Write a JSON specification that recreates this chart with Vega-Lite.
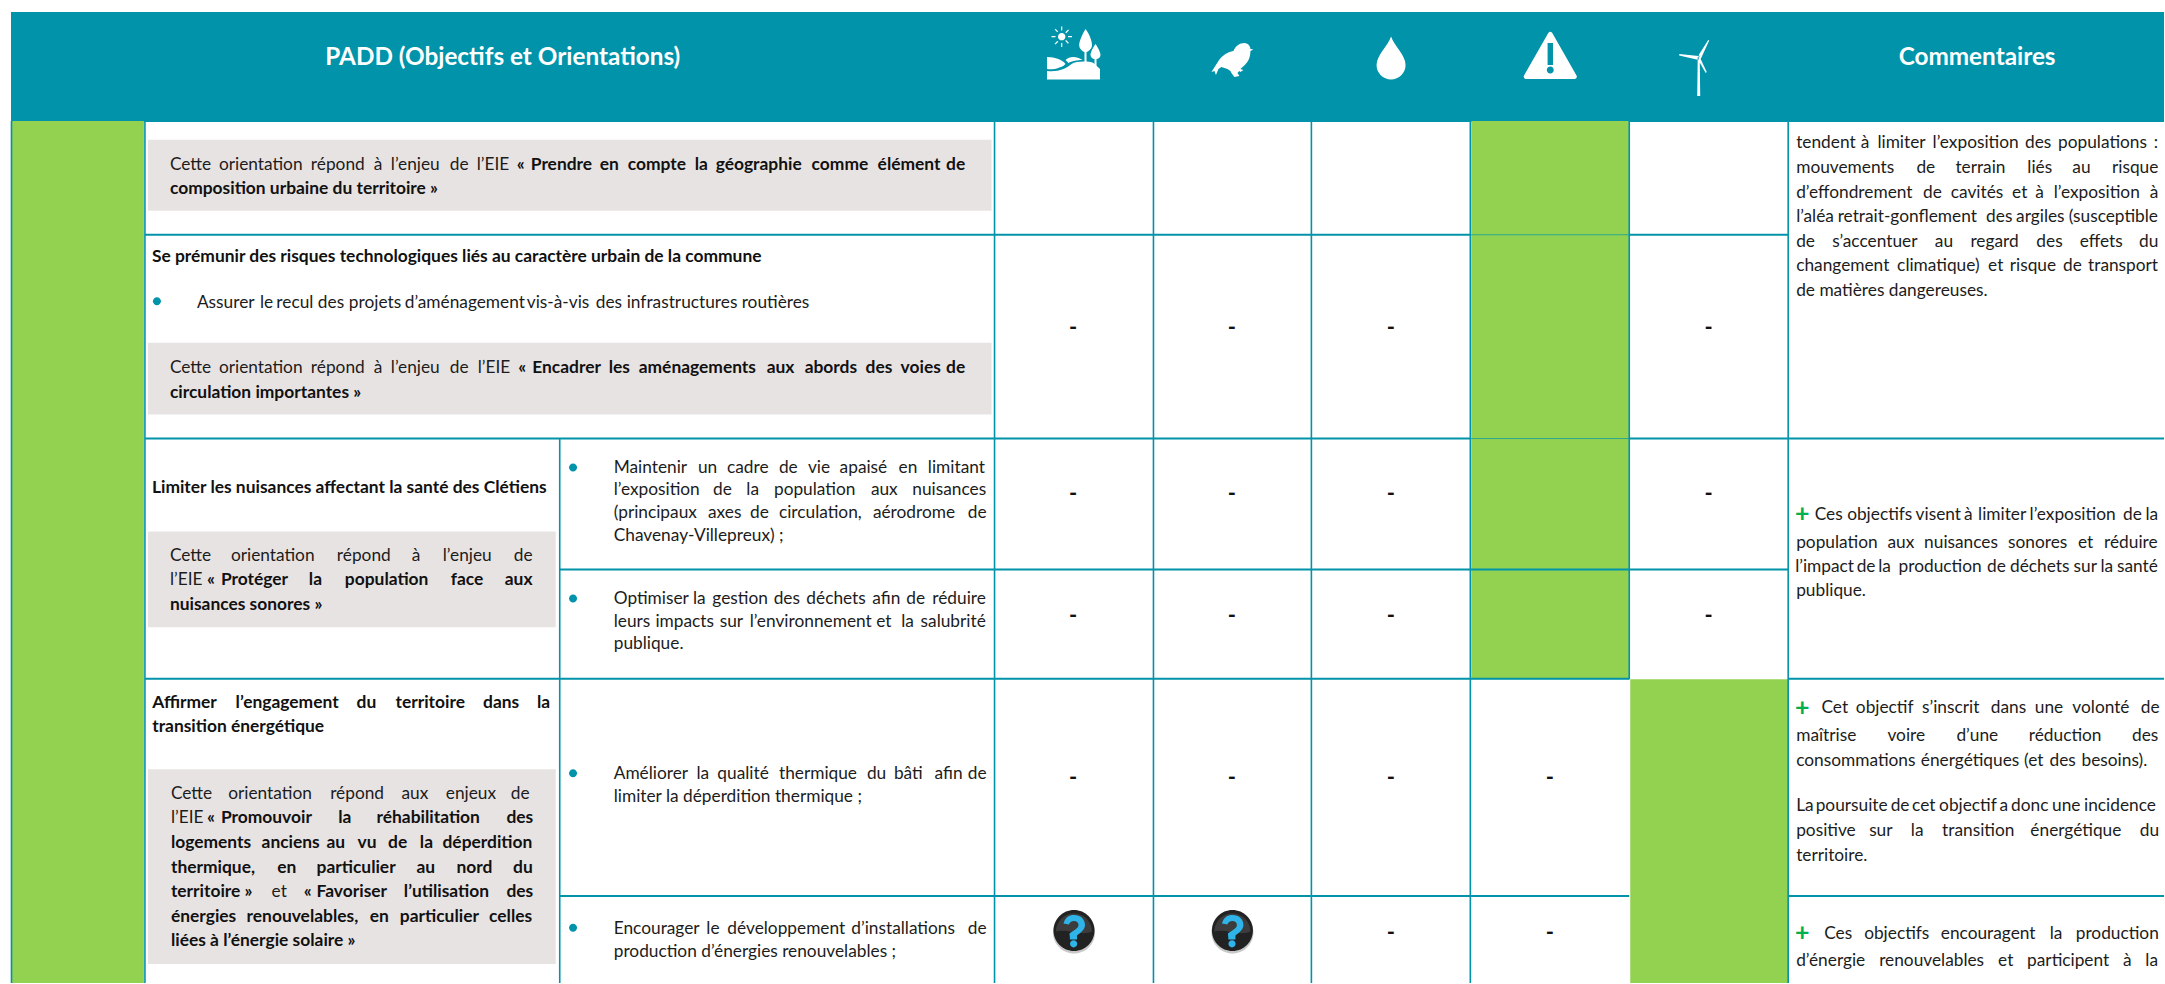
{
"$schema":"https://vega.github.io/schema/vega-lite/v6.json",
"width":2165,"height":984,"padding":0,
"autosize":{"type":"fit","contains":"padding"},
"background":"#ffffff",
"config":{"view":{"stroke":null}},
"resolve":{"scale":{"color":"independent","shape":"independent"}},
"datasets":{
"cellules":[
{"k":"entete","x":11,"x2":2165,"y":12,"y2":122},
{"k":"vert","x":12,"x2":144,"y":121,"y2":984},
{"k":"vert","x":1472,"x2":1630,"y":121,"y2":680},
{"k":"vert","x":1631,"x2":1789,"y":680,"y2":984},
{"k":"gris","x":148,"x2":992,"y":140,"y2":211},
{"k":"gris","x":148,"x2":992,"y":343,"y2":415},
{"k":"gris","x":148,"x2":556,"y":532,"y2":628},
{"k":"gris","x":148,"x2":556,"y":770,"y2":965}
],
"horizontales":[
{"x":145,"x2":1471,"y":235},{"x":1630,"x2":1789,"y":235},
{"x":145,"x2":1471,"y":439},{"x":1630,"x2":2165,"y":439},
{"x":560,"x2":1789,"y":570},
{"x":145,"x2":1630,"y":679.5},{"x":1789,"x2":2165,"y":679.5},
{"x":560,"x2":1630,"y":897},{"x":1789,"x2":2165,"y":897}
],
"fines":[{"x":1471,"x2":1630,"y":235},{"x":1471,"x2":1630,"y":439}],
"verticales":[
{"x":11.5,"y":121,"y2":984},{"x":145,"y":121,"y2":984},{"x":560,"y":439,"y2":984},
{"x":995,"y":121,"y2":984},{"x":1154,"y":121,"y2":984},{"x":1312,"y":121,"y2":984},
{"x":1471,"y":121,"y2":984},{"x":1630,"y":121,"y2":680},{"x":1789,"y":121,"y2":984}
],
"icones":[
{"p":"soleil","x":1074,"y":54},{"p":"arbre","x":1074,"y":54},{"p":"arbuste","x":1074,"y":54},{"p":"sol","x":1074,"y":54},{"p":"colline","x":1074,"y":54},{"p":"feuille","x":1074,"y":54},
{"p":"oiseau","x":1233,"y":60},{"p":"goutte","x":1391.7,"y":58},{"p":"danger","x":1551,"y":55},{"p":"eolienne","x":1699.5,"y":57},
{"p":"ombre","x":1074.5,"y":933.5},{"p":"fond","x":1074.5,"y":931.5},{"p":"reflet","x":1074.5,"y":931.5},{"p":"question","x":1074.5,"y":931.5},
{"p":"ombre","x":1233,"y":933.5},{"p":"fond","x":1233,"y":931.5},{"p":"reflet","x":1233,"y":931.5},{"p":"question","x":1233,"y":931.5},
{"p":"puce","x":157,"y":301.5},{"p":"puce","x":573.3,"y":468},{"p":"puce","x":573.3,"y":599},{"p":"puce","x":573.3,"y":774},{"p":"puce","x":573.3,"y":928.7}
],
"titres":[
{"t":"PADD (Objectifs et Orientations)","x":503,"y":58},
{"t":"Commentaires","x":1978,"y":58}
],
"tirets":[
{"t":"-","x":1073.5,"y":328},{"t":"-","x":1232.5,"y":328},{"t":"-","x":1391.5,"y":328},{"t":"-","x":1709.5,"y":328},
{"t":"-","x":1073.5,"y":495},{"t":"-","x":1232.5,"y":495},{"t":"-","x":1391.5,"y":495},{"t":"-","x":1709.5,"y":495},
{"t":"-","x":1073.5,"y":616.5},{"t":"-","x":1232.5,"y":616.5},{"t":"-","x":1391.5,"y":616.5},{"t":"-","x":1709.5,"y":616.5},
{"t":"-","x":1073.5,"y":779},{"t":"-","x":1232.5,"y":779},{"t":"-","x":1391.5,"y":779},{"t":"-","x":1550.5,"y":779},
{"t":"-","x":1391.5,"y":934},{"t":"-","x":1550.5,"y":934}
],
"plus":[{"t":"+","x":1803,"y":515},{"t":"+","x":1803,"y":708.5},{"t":"+","x":1803,"y":934}],
"gras":[
{"t":"«","x":517,"y":169},{"t":"Prendre","x":531,"y":169},{"t":"en","x":600,"y":169},{"t":"compte","x":628,"y":169},{"t":"la","x":695,"y":169},{"t":"géographie","x":716,"y":169},{"t":"comme","x":812,"y":169},{"t":"élément","x":878,"y":169},{"t":"de","x":946.5,"y":169},
{"t":"composition urbaine du territoire »","x":170,"y":193},
{"t":"Se prémunir des risques technologiques liés au caractère urbain de la commune","x":152,"y":261},
{"t":"«","x":518.5,"y":372},{"t":"Encadrer","x":532.5,"y":372},{"t":"les","x":609,"y":372},{"t":"aménagements","x":639,"y":372},{"t":"aux","x":767,"y":372},{"t":"abords","x":805,"y":372},{"t":"des","x":866,"y":372},{"t":"voies","x":901,"y":372},{"t":"de","x":946.5,"y":372},
{"t":"circulation importantes »","x":170,"y":397},
{"t":"Limiter les nuisances affectant la santé des Clétiens","x":152,"y":493},
{"t":"«","x":207,"y":585},{"t":"Protéger","x":221,"y":585},{"t":"la","x":309,"y":585},{"t":"population","x":345,"y":585},{"t":"face","x":451,"y":585},{"t":"aux","x":505,"y":585},
{"t":"nuisances sonores »","x":170,"y":610},
{"t":"Affirmer","x":152.3,"y":707.3},{"t":"l’engagement","x":235.7,"y":707.3},{"t":"du","x":356.7,"y":707.3},{"t":"territoire","x":395.7,"y":707.3},{"t":"dans","x":483.3,"y":707.3},{"t":"la","x":537.3,"y":707.3},
{"t":"transition énergétique","x":152.3,"y":732},
{"t":"«","x":207,"y":823.3},{"t":"Promouvoir","x":221,"y":823.3},{"t":"la","x":338.3,"y":823.3},{"t":"réhabilitation","x":376.7,"y":823.3},{"t":"des","x":506.7,"y":823.3},
{"t":"logements","x":171,"y":848.3},{"t":"anciens","x":261.7,"y":848.3},{"t":"au","x":326.7,"y":848.3},{"t":"vu","x":357.7,"y":848.3},{"t":"de","x":388.3,"y":848.3},{"t":"la","x":420,"y":848.3},{"t":"déperdition","x":442.7,"y":848.3},
{"t":"thermique,","x":171,"y":873.3},{"t":"en","x":277.3,"y":873.3},{"t":"particulier","x":316.7,"y":873.3},{"t":"au","x":416.7,"y":873.3},{"t":"nord","x":456.7,"y":873.3},{"t":"du","x":513.3,"y":873.3},
{"t":"territoire »","x":171,"y":897.3},{"t":"«","x":304,"y":897.3},{"t":"Favoriser","x":316.7,"y":897.3},{"t":"l’utilisation","x":404,"y":897.3},{"t":"des","x":506.7,"y":897.3},
{"t":"énergies","x":171,"y":922.3},{"t":"renouvelables,","x":246.7,"y":922.3},{"t":"en","x":370,"y":922.3},{"t":"particulier","x":400,"y":922.3},{"t":"celles","x":489.3,"y":922.3},
{"t":"liées à l’énergie solaire »","x":171,"y":946}
],
"courant":[
{"t":"Cette","x":170,"y":169},{"t":"orientation","x":219,"y":169},{"t":"répond","x":311,"y":169},{"t":"à","x":374,"y":169},{"t":"l’enjeu","x":391,"y":169},{"t":"de","x":450,"y":169},{"t":"l’EIE","x":477,"y":169},
{"t":"Assurer","x":197,"y":307},{"t":"le","x":260,"y":307},{"t":"recul","x":276.5,"y":307},{"t":"des","x":318,"y":307},{"t":"projets","x":349,"y":307},{"t":"d’aménagement","x":405,"y":307},{"t":"vis-à-vis","x":527,"y":307},{"t":"des","x":596,"y":307},{"t":"infrastructures","x":627,"y":307},{"t":"routières","x":742,"y":307},
{"t":"Cette","x":170,"y":372},{"t":"orientation","x":219,"y":372},{"t":"répond","x":311,"y":372},{"t":"à","x":374,"y":372},{"t":"l’enjeu","x":391,"y":372},{"t":"de","x":450,"y":372},{"t":"l’EIE","x":478,"y":372},
{"t":"Cette","x":170,"y":561},{"t":"orientation","x":231,"y":561},{"t":"répond","x":337,"y":561},{"t":"à","x":412,"y":561},{"t":"l’enjeu","x":443,"y":561},{"t":"de","x":514,"y":561},
{"t":"l’EIE","x":170,"y":585},
{"t":"Cette","x":171,"y":799.3},{"t":"orientation","x":228.3,"y":799.3},{"t":"répond","x":330.3,"y":799.3},{"t":"aux","x":401.7,"y":799.3},{"t":"enjeux","x":446,"y":799.3},{"t":"de","x":511,"y":799.3},
{"t":"l’EIE","x":171,"y":823.3},
{"t":"et","x":271.7,"y":897.3},
{"t":"Maintenir","x":614,"y":472.7},{"t":"un","x":698.3,"y":472.7},{"t":"cadre","x":727.3,"y":472.7},{"t":"de","x":779.3,"y":472.7},{"t":"vie","x":808.3,"y":472.7},{"t":"apaisé","x":840,"y":472.7},{"t":"en","x":899,"y":472.7},{"t":"limitant","x":928.3,"y":472.7},
{"t":"l’exposition","x":614,"y":495},{"t":"de","x":713.3,"y":495},{"t":"la","x":746.7,"y":495},{"t":"population","x":774.3,"y":495},{"t":"aux","x":871.3,"y":495},{"t":"nuisances","x":912.7,"y":495},
{"t":"(principaux","x":614,"y":517.7},{"t":"axes","x":708.3,"y":517.7},{"t":"de","x":750.3,"y":517.7},{"t":"circulation,","x":779.3,"y":517.7},{"t":"aérodrome","x":873.3,"y":517.7},{"t":"de","x":968.3,"y":517.7},
{"t":"Chavenay-Villepreux) ;","x":614,"y":540.7},
{"t":"Optimiser","x":614,"y":604},{"t":"la","x":693.3,"y":604},{"t":"gestion","x":712.7,"y":604},{"t":"des","x":774,"y":604},{"t":"déchets","x":806.7,"y":604},{"t":"afin","x":872.7,"y":604},{"t":"de","x":906.7,"y":604},{"t":"réduire","x":932.7,"y":604},
{"t":"leurs","x":614,"y":626.7},{"t":"impacts","x":655.7,"y":626.7},{"t":"sur","x":720,"y":626.7},{"t":"l’environnement","x":750,"y":626.7},{"t":"et","x":876.7,"y":626.7},{"t":"la","x":901.7,"y":626.7},{"t":"salubrité","x":921,"y":626.7},
{"t":"publique.","x":614,"y":649},
{"t":"Améliorer","x":614,"y":779},{"t":"la","x":696.7,"y":779},{"t":"qualité","x":717.7,"y":779},{"t":"thermique","x":779.3,"y":779},{"t":"du","x":867.3,"y":779},{"t":"bâti","x":894.3,"y":779},{"t":"afin","x":935,"y":779},{"t":"de","x":968.3,"y":779},
{"t":"limiter la déperdition thermique ;","x":614,"y":802.3},
{"t":"Encourager","x":614,"y":934},{"t":"le","x":706.7,"y":934},{"t":"développement","x":727.7,"y":934},{"t":"d’installations","x":851.7,"y":934},{"t":"de","x":968.3,"y":934},
{"t":"production d’énergies renouvelables ;","x":614,"y":957.3},
{"t":"tendent","x":1797,"y":147},{"t":"à","x":1861.7,"y":147},{"t":"limiter","x":1878.3,"y":147},{"t":"l’exposition","x":1933.5,"y":147},{"t":"des","x":2026,"y":147},{"t":"populations","x":2059,"y":147},{"t":":","x":2154.7,"y":147},
{"t":"mouvements","x":1797,"y":172},{"t":"de","x":1917.3,"y":172},{"t":"terrain","x":1956.3,"y":172},{"t":"liés","x":2028.3,"y":172},{"t":"au","x":2073.3,"y":172},{"t":"risque","x":2113,"y":172},
{"t":"d’effondrement","x":1797,"y":197},{"t":"de","x":1924,"y":197},{"t":"cavités","x":1951.7,"y":197},{"t":"et","x":2013,"y":197},{"t":"à","x":2036.3,"y":197},{"t":"l’exposition","x":2054.7,"y":197},{"t":"à","x":2150.7,"y":197},
{"t":"l’aléa","x":1797,"y":221},{"t":"retrait-gonflement","x":1838.5,"y":221},{"t":"des","x":1987,"y":221},{"t":"argiles","x":2017,"y":221},{"t":"(susceptible","x":2069.7,"y":221},
{"t":"de","x":1797,"y":246},{"t":"s’accentuer","x":1833,"y":246},{"t":"au","x":1935.7,"y":246},{"t":"regard","x":1971.3,"y":246},{"t":"des","x":2037.3,"y":246},{"t":"effets","x":2080.7,"y":246},{"t":"du","x":2140,"y":246},
{"t":"changement","x":1797,"y":270},{"t":"climatique)","x":1898,"y":270},{"t":"et","x":1989,"y":270},{"t":"risque","x":2010.7,"y":270},{"t":"de","x":2064,"y":270},{"t":"transport","x":2089,"y":270},
{"t":"de matières dangereuses.","x":1797,"y":295},
{"t":"Ces","x":1815.5,"y":520},{"t":"objectifs","x":1848,"y":520},{"t":"visent","x":1916.5,"y":520},{"t":"à","x":1965,"y":520},{"t":"limiter","x":1979,"y":520},{"t":"l’exposition","x":2030.5,"y":520},{"t":"de","x":2124,"y":520},{"t":"la","x":2146.5,"y":520},
{"t":"population","x":1797,"y":547.7},{"t":"aux","x":1888.3,"y":547.7},{"t":"nuisances","x":1925,"y":547.7},{"t":"sonores","x":2009,"y":547.7},{"t":"et","x":2079,"y":547.7},{"t":"réduire","x":2105,"y":547.7},
{"t":"l’impact","x":1796,"y":571.7},{"t":"de","x":1857.5,"y":571.7},{"t":"la","x":1879,"y":571.7},{"t":"production","x":1899.5,"y":571.7},{"t":"de","x":1988,"y":571.7},{"t":"déchets","x":2011,"y":571.7},{"t":"sur","x":2074.5,"y":571.7},{"t":"la","x":2101.5,"y":571.7},{"t":"santé","x":2118,"y":571.7},
{"t":"publique.","x":1797,"y":596},
{"t":"Cet","x":1822.3,"y":712.7},{"t":"objectif","x":1856.7,"y":712.7},{"t":"s’inscrit","x":1923,"y":712.7},{"t":"dans","x":1991.7,"y":712.7},{"t":"une","x":2035.7,"y":712.7},{"t":"volonté","x":2073.3,"y":712.7},{"t":"de","x":2141.7,"y":712.7},
{"t":"maîtrise","x":1797,"y":741},{"t":"voire","x":1888.3,"y":741},{"t":"d’une","x":1957.3,"y":741},{"t":"réduction","x":2029.7,"y":741},{"t":"des","x":2133,"y":741},
{"t":"consommations","x":1797,"y":765.3},{"t":"énergétiques","x":1921.7,"y":765.3},{"t":"(et","x":2025,"y":765.3},{"t":"des","x":2050.5,"y":765.3},{"t":"besoins).","x":2082.5,"y":765.3},
{"t":"La","x":1797,"y":811},{"t":"poursuite","x":1816.5,"y":811},{"t":"de","x":1891.5,"y":811},{"t":"cet","x":1913,"y":811},{"t":"objectif","x":1940,"y":811},{"t":"a","x":2000.5,"y":811},{"t":"donc","x":2012,"y":811},{"t":"une","x":2053,"y":811},{"t":"incidence","x":2085,"y":811},
{"t":"positive","x":1797,"y":836},{"t":"sur","x":1870,"y":836},{"t":"la","x":1911.7,"y":836},{"t":"transition","x":1943,"y":836},{"t":"énergétique","x":2031.3,"y":836},{"t":"du","x":2140.7,"y":836},
{"t":"territoire.","x":1797,"y":860.7},
{"t":"Ces","x":1825,"y":939},{"t":"objectifs","x":1865,"y":939},{"t":"encouragent","x":1941.7,"y":939},{"t":"la","x":2050.7,"y":939},{"t":"production","x":2076.7,"y":939},
{"t":"d’énergie","x":1797,"y":966},{"t":"renouvelables","x":1880,"y":966},{"t":"et","x":1999,"y":966},{"t":"participent","x":2028,"y":966},{"t":"à","x":2124,"y":966},{"t":"la","x":2146.3,"y":966}
]
},
"encoding":{
"x":{"field":"x","type":"quantitative","axis":null,"scale":{"domain":[0,2165],"nice":false,"zero":false}},
"y":{"field":"y","type":"quantitative","axis":null,"scale":{"domain":[0,984],"nice":false,"zero":false,"reverse":true}}
},
"layer":[
{"data":{"name":"cellules"},"mark":{"type":"rect"},
 "encoding":{"x2":{"field":"x2"},"y2":{"field":"y2"},
 "color":{"field":"k","type":"nominal","legend":null,"scale":{"domain":["entete","vert","gris"],"range":["#0093AA","#92D250","#E8E3E3"]}}}},
{"data":{"name":"horizontales"},"mark":{"type":"rule","color":"#0093AA","strokeWidth":2},"encoding":{"x2":{"field":"x2"}}},
{"data":{"name":"fines"},"mark":{"type":"rule","color":"#0093AA","strokeWidth":1,"opacity":0.7},"encoding":{"x2":{"field":"x2"}}},
{"data":{"name":"verticales"},"mark":{"type":"rule","color":"#0093AA","strokeWidth":1.6},"encoding":{"y2":{"field":"y2"}}},
{"data":{"name":"icones"},"mark":{"type":"point","filled":true,"size":4,"opacity":1,"strokeWidth":0},
 "encoding":{
 "shape":{"field":"p","type":"nominal","legend":null,"scale":{
  "domain":["soleil","arbre","arbuste","sol","colline","feuille","oiseau","goutte","danger","eolienne","ombre","fond","reflet","question","puce"],
  "range":[
  "M-15.5,-17.3 A3.7,3.7 0 1 1 -8.1,-17.3 A3.7,3.7 0 1 1 -15.5,-17.3Z M-12.4,-27.5 h1.2 v4 h-1.2Z M-12.4,-11 h1.2 v4 h-1.2Z M-22,-17.9 h4 v1.2 h-4Z M-5.5,-17.9 h4 v1.2 h-4Z M-18.9,-24.4 l0.9,-0.8 l2.7,2.8 l-0.9,0.8Z M-8.3,-13.1 l0.9,-0.8 l2.7,2.8 l-0.9,0.8Z M-18.9,-10.2 l2.8,-2.9 l0.9,0.8 l-2.8,2.9Z M-8.2,-21.6 l2.8,-2.9 l0.9,0.8 l-2.8,2.9Z",
  "M12,-25 C16,-20 18.5,-13 18.5,-9 C18.5,-5 15,-2.5 13,-2 L13,10 L11,10 L11,-2 C9,-2.5 5.7,-5 5.7,-9 C5.7,-13 9,-20 12,-25Z",
  "M22,-10 C25,-6 27,-1 27,1 C27,3 25,5 23,5 L23,13 L21,13 L21,5 C19,5 17,3 17,1 C17,-1 19,-6 22,-10Z",
  "M-26.5,25.5 L-26.5,17 C-15,18 -8,15 -2,10 C3,7 15,7 20,9 L26.5,15 L26.5,25.5Z",
  "M-26.5,3 C-18,3 -11,6 -8,10 C-12,14 -20,16 -26.5,15Z",
  "M-8,6 C-4,2 3,2 9,6 C4,6 -2,7 -5,9Z",
  "M12,-17 C16,-17 18,-13 18,-11 L21,-10.5 L18,-9 C18,-3 16,3 9,8 L8,9 L11,10 L8,12 L7,11 L5,13 L7,16 L2,17 L-1,13 L-2,11 L-5,9 L-11,7 L-14,9 L-16.5,15 L-18,11 L-21,12 L-14,1 C-11,-4 -5,-8 1,-9 C3,-14 7,-17 12,-17Z",
  "M0,-21.5 C3,-12 14.5,-3 14.5,7 C14.5,15 8,21.5 0,21.5 C-8,21.5 -14.5,15 -14.5,7 C-14.5,-3 -3,-12 0,-21.5Z",
  "M-2,-22 Q0,-24.5 2,-22 L26.5,21 Q27,24 24.5,24 L-24.5,24 Q-27,24 -26.5,21Z M-2.7,-12 L-2.7,10 L2.7,10 L2.7,-12Z M0,11.5 A3.5,3.5 0 1 0 0,18.5 A3.5,3.5 0 1 0 0,11.5Z",
  "M-1,0 L1,0 L1.5,39 L-1.5,39Z M0,-2 L9.5,-17 L10.5,-16.5 L2,2Z M0,-1 L-19.5,-3 L-19.5,-1.5 L0,3Z M1,0 L8,15 L7,16 L-0.5,3Z",
  "M-21,0 A21,21 0 1 1 21,0 A21,21 0 1 1 -21,0Z",
  "M-20.5,0 A20.5,20.5 0 1 1 20.5,0 A20.5,20.5 0 1 1 -20.5,0Z",
  "M-18,1 A18,18 0 0 1 18,1 C8,6 -8,-2 -18,1Z",
  "M-10.5,-7 C-9,-13 -5,-15.5 0,-15.5 C6.5,-15.5 11,-11.5 11,-5.5 C11,-1 7,2 3,5 L3,9 L-4,9 L-4.5,3 C-1,0 4.5,-2 4.5,-5.5 C4.5,-8 2.5,-9.5 0,-9.5 C-2.5,-9.5 -4.5,-8 -5,-6Z M-4,13.3 A3.6,3.6 0 1 1 3.2,13.3 A3.6,3.6 0 1 1 -4,13.3Z",
  "M-4,0 A4,4 0 1 1 4,0 A4,4 0 1 1 -4,0Z"
  ]}},
 "color":{"field":"p","type":"nominal","legend":null,"scale":{
  "domain":["soleil","arbre","arbuste","sol","colline","feuille","oiseau","goutte","danger","eolienne","ombre","fond","reflet","question","puce"],
  "range":["#ffffff","#ffffff","#ffffff","#ffffff","#ffffff","#ffffff","#ffffff","#ffffff","#ffffff","#ffffff","#c8c8c8","#222222","#3c3c3c","#2FB4EA","#0093AA"]}}
 }},
{"data":{"name":"titres"},"mark":{"type":"text","font":"Lato","fontWeight":"bold","fontSize":24.3,"color":"#ffffff","align":"center","baseline":"middle"},"encoding":{"text":{"field":"t"}}},
{"data":{"name":"tirets"},"mark":{"type":"text","font":"Lato","fontWeight":"bold","fontSize":22,"color":"#111111","align":"center","baseline":"middle"},"encoding":{"text":{"field":"t"}}},
{"data":{"name":"plus"},"mark":{"type":"text","font":"Lato","fontWeight":"bold","fontSize":25,"color":"#00B050","align":"center","baseline":"middle"},"encoding":{"text":{"field":"t"}}},
{"data":{"name":"gras"},"mark":{"type":"text","font":"Lato","fontWeight":"bold","fontSize":17.4,"dy":1,"color":"#111111","align":"left","baseline":"alphabetic"},"encoding":{"text":{"field":"t"}}},
{"data":{"name":"courant"},"mark":{"type":"text","font":"Lato","fontSize":17.3,"dy":1,"color":"#1c1c1c","align":"left","baseline":"alphabetic"},"encoding":{"text":{"field":"t"}}}
]
}
